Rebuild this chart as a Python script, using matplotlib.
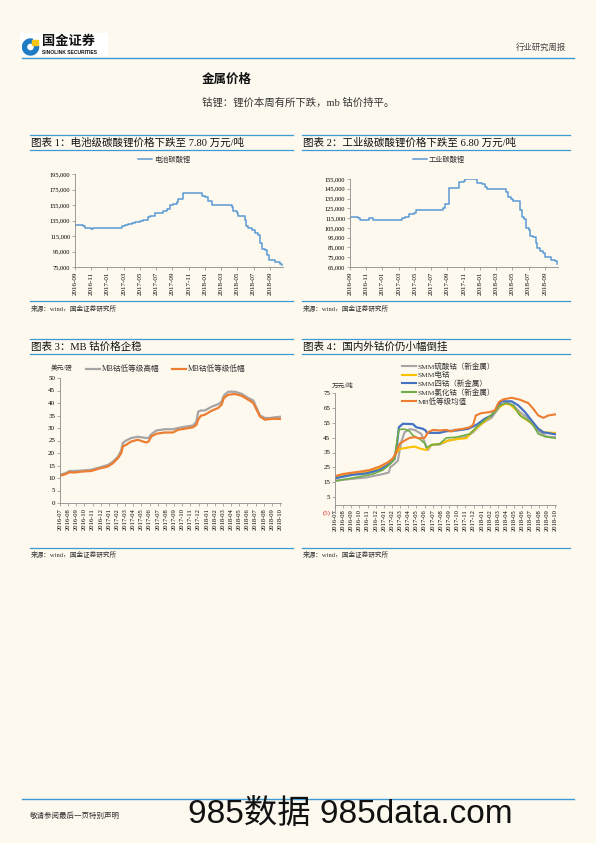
import numpy as np
import pandas as pd
import matplotlib
matplotlib.use('Agg')
import matplotlib.pyplot as plt
from matplotlib.lines import Line2D
from matplotlib.patches import Wedge, Rectangle

# page size in pixels
W, H = 596, 843
BG = '#FDF9EE'
BLUE = '#3C9BD4'
plt.rcParams['font.family'] = ['Liberation Serif', 'Noto Sans CJK SC']
SANS = ['Liberation Sans', 'Noto Sans CJK SC']

# ---- chart 1: battery-grade lithium carbonate (yuan/t), months since 2016-09
li_batt_months = [0, 1.03, 1.23, 1.97, 2.26, 5.75, 6.16, 6.57, 6.98, 7.39,
                  8.01, 8.42, 9.03, 9.24, 9.86, 10.68, 10.88, 11.29, 11.7, 12.11,
                  12.53, 12.65, 13.14, 13.35, 15.61, 16.02, 16.34, 16.84, 19.38, 19.51,
                  19.92, 20.12, 20.94, 21.07, 21.36, 21.77, 22.18, 22.59, 22.79, 23.08,
                  23.41, 23.61, 23.94, 24.44, 24.64, 25.05, 25.26, 25.46]
li_batt_price = [129.4, 127.5, 125.0, 124.3, 125.6, 127.5, 128.6, 130.0, 132.4, 133.7,
                 135.0, 136.0, 139.3, 141.4, 144.4, 145.3, 147.0, 150.0, 155.6, 156.4,
                 158.6, 162.9, 163.0, 170.6, 166.7, 165.9, 160.7, 154.7, 152.0, 147.4,
                 145.3, 141.4, 136.0, 127.3, 125.0, 123.0, 118.7, 116.6, 105.9, 98.0,
                 96.4, 90.9, 84.4, 84.0, 81.4, 81.0, 79.3, 78.0]

# ---- chart 2: industrial-grade lithium carbonate
li_ind_months = [0, 1.03, 1.23, 2.34, 2.87, 6.37, 6.78, 7.31, 7.93, 8.13,
                 11.42, 11.7, 12.24, 12.4, 13.43, 14.05, 14.17, 15.61, 16.22, 16.63,
                 16.84, 19.22, 19.51, 19.79, 20.12, 20.94, 21.15, 21.44, 21.68, 22.01,
                 22.18, 22.59, 22.92, 23.08, 23.41, 23.74, 24.02, 24.56, 24.72, 25.26, 25.46]
li_ind_price = [116.1, 114.8, 112.7, 115.5, 113.4, 115.5, 116.1, 119.2, 120.2, 123.0,
                125.0, 129.0, 145.5, 146.1, 152.0, 152.6, 155.3, 150.9, 149.5, 146.8,
                144.8, 141.4, 136.2, 134.5, 132.2, 123.6, 116.1, 114.0, 104.9, 103.2,
                97.0, 95.7, 89.5, 84.4, 81.0, 79.3, 75.6, 74.9, 72.2, 71.5, 68.0]
li_ticks = pd.date_range('2016-09-01', periods=13, freq='2MS').strftime('%Y-%m')

# ---- chart 3: MB cobalt (USD/lb), months since 2016-07
mb_months = [0, 0.33, 0.74, 1.15, 1.76, 2.79, 3.82, 4.84, 5.87, 6.48,
             7.1, 7.51, 7.71, 8.12, 8.74, 9.56, 10.18, 10.59, 10.87, 11.2,
             11.82, 12.84, 13.87, 14.49, 15.31, 16.33, 16.74, 16.95, 17.28, 17.77,
             18.59, 19.41, 19.82, 20.11, 20.64, 21.46, 22.28, 23.1, 23.72, 24.13,
             24.54, 25.16, 25.77, 26.39, 27.0]
mb_high = [11.3, 11.6, 12.0, 12.8, 12.8, 13.0, 13.3, 14.2, 15.2, 16.5,
           18.5, 21.0, 24.0, 25.0, 26.0, 26.5, 26.2, 26.0, 26.0, 27.5,
           29.0, 29.5, 29.5, 30.0, 30.5, 31.0, 32.5, 36.5, 37.0, 37.0,
           38.5, 39.5, 40.5, 43.0, 44.5, 44.5, 43.7, 42.0, 41.0, 38.0,
           35.0, 34.0, 34.0, 34.3, 34.5]
mb_low = [11.0, 11.2, 11.6, 12.3, 12.2, 12.6, 12.8, 13.8, 14.6, 15.9,
          17.9, 19.9, 22.6, 23.3, 24.6, 25.3, 24.6, 24.2, 24.6, 26.6,
          27.7, 28.2, 28.2, 29.3, 29.7, 30.3, 31.3, 33.3, 34.9, 35.3,
          36.9, 38.0, 39.3, 42.0, 43.3, 43.6, 42.9, 41.3, 40.0, 37.3,
          34.6, 33.3, 33.6, 33.7, 33.6]
month_ticks = pd.date_range('2016-07-01', periods=28, freq='MS').strftime('%Y-%m')

# ---- chart 4: domestic vs overseas cobalt (10k yuan/t)
sulf_months = [0, 1.76, 3.82, 5.87, 6.61, 6.77, 7.3, 7.71, 8.12, 8.54,
               9.15, 9.77, 10.59, 11.0, 11.41, 11.82, 12.84, 13.87, 14.9, 16.13,
               16.95, 17.97, 19.2, 20.02, 20.64, 21.26, 21.88, 22.69, 23.51, 24.33,
               25.15, 25.97, 27.0]
sulf_price = [16.0, 17.1, 18.2, 20.5, 21.6, 25.0, 27.3, 29.5, 41.9, 48.6,
              50.7, 50.2, 47.5, 41.9, 36.7, 40.1, 40.3, 43.0, 44.1, 45.7,
              48.6, 54.3, 58.3, 64.4, 67.8, 68.2, 66.7, 62.2, 58.8, 53.2,
              48.6, 45.7, 45.3]
elec_months = [0, 1.35, 3.0, 4.64, 6.28, 7.1, 7.51, 7.92, 9.15, 9.77,
               10.59, 11.2, 11.82, 12.84, 13.87, 15.1, 16.13, 16.74, 17.77, 19.0,
               20.02, 20.85, 21.46, 22.28, 22.9, 23.92, 24.74, 25.56, 27.0]
elec_price = [18.9, 20.0, 20.9, 22.7, 26.1, 29.5, 34.5, 37.4, 38.5, 39.0,
              37.4, 36.7, 40.1, 40.8, 43.0, 44.1, 44.6, 48.6, 53.2, 58.8,
              65.1, 67.8, 67.3, 63.3, 59.2, 55.4, 52.0, 48.6, 48.2]
oxide_months = [0, 0.94, 2.17, 3.82, 5.46, 6.69, 7.3, 7.59, 7.84, 8.33,
                9.56, 9.97, 10.79, 11.12, 11.28, 12.84, 13.66, 14.9, 16.33, 17.36,
                18.38, 19.2, 20.02, 20.44, 21.67, 22.49, 23.31, 24.13, 24.95, 25.56, 27.0]
oxide_price = [17.6, 18.7, 20.0, 20.9, 23.2, 27.3, 30.6, 39.6, 52.0, 54.3,
               54.1, 52.0, 50.9, 49.8, 48.2, 48.2, 49.3, 49.8, 50.9, 53.6,
               57.7, 59.9, 66.0, 69.4, 69.4, 66.7, 62.2, 56.5, 50.9, 48.6, 47.3]
chlor_months = [0, 1.35, 3.0, 4.64, 5.87, 6.69, 7.3, 7.59, 7.84, 8.54,
                9.15, 9.56, 10.38, 11.0, 11.2, 11.82, 12.84, 13.66, 14.9, 15.72,
                16.54, 17.36, 18.59, 19.61, 20.23, 21.05, 21.88, 22.69, 23.72, 24.33,
                24.95, 25.77, 27.0]
chlor_price = [15.8, 17.1, 18.7, 20.5, 23.2, 26.8, 30.6, 41.9, 50.5, 50.7,
               49.3, 46.4, 44.1, 41.2, 38.1, 40.1, 40.8, 44.8, 45.3, 46.4,
               47.5, 52.0, 57.7, 62.2, 66.7, 68.2, 66.7, 59.9, 56.5, 53.2,
               47.5, 45.7, 44.6]
mbavg_months = [0, 0.94, 1.76, 3.0, 4.23, 5.46, 6.48, 7.1, 7.51, 7.92,
                8.54, 9.15, 9.77, 10.38, 11.0, 11.41, 12.02, 12.84, 13.66, 14.28,
                14.69, 15.72, 16.54, 16.95, 17.28, 17.97, 19.0, 19.61, 20.11, 20.64,
                21.67, 22.69, 23.72, 24.33, 24.95, 25.56, 26.18, 27.0]
mbavg_price = [19.1, 20.5, 21.2, 22.1, 23.2, 25.5, 28.4, 31.1, 35.1, 40.8,
               43.0, 44.8, 45.3, 44.6, 44.8, 48.6, 50.2, 49.8, 50.2, 49.1,
               50.2, 50.9, 52.0, 53.6, 59.9, 61.5, 62.2, 63.3, 68.9, 70.7,
               71.8, 70.5, 68.2, 64.4, 59.9, 58.3, 59.9, 60.6]
c4_names = ['SMM硫酸钴（新金属）', 'SMM电钴', 'SMM四钴（新金属）', 'SMM氯化钴（新金属）', 'MB低等级均值']
c4_colors = ['#A5A5A5', '#FFC000', '#4472C4', '#70AD47', '#ED7D31']

fig = plt.figure(figsize=(W / 100, H / 100), dpi=100, facecolor=BG)


def fx(x):
    return x / W


def fy(y):
    return 1 - y / H


def hline(y, x0, x1, lw=0.9, color=BLUE):
    fig.add_artist(Line2D([fx(x0), fx(x1)], [fy(y), fy(y)], color=color, lw=lw))


def text(x, y, s, size, **kw):
    fig.text(fx(x), fy(y), s, fontsize=size, va='center', **kw)


def axes_at(x0, y0, x1, y1):
    ax = fig.add_axes([fx(x0), fy(y1), fx(x1) - fx(x0), fy(y0) - fy(y1)])
    ax.set_facecolor('none')
    for s in ['top', 'right']:
        ax.spines[s].set_visible(False)
    for s in ['left', 'bottom']:
        ax.spines[s].set_color('#8C8C8C')
        ax.spines[s].set_linewidth(0.6)
    ax.tick_params(length=2, width=0.5, color='#8C8C8C', pad=1.5)
    return ax


def legend_entry(x, y, color, label, lw, size=5.2):
    fig.add_artist(Line2D([fx(x), fx(x + 14)], [fy(y), fy(y)], color=color, lw=lw))
    text(x + 16, y, label, size, color='#333333')


# ---- header
fig.add_artist(Rectangle((fx(20), fy(56)), fx(88), fy(0) - fy(23), color='white', lw=0, zorder=-1))
logo = fig.add_axes([fx(22), fy(56), fx(18), fy(0) - fy(20)])
logo.set_zorder(2)
logo.set_facecolor('none')
logo.set_xlim(0, 18)
logo.set_ylim(0, 20)
logo.axis('off')
logo.add_patch(Wedge((8.5, 9), 8, 75, 15, width=4, color='#1F7CC4'))
logo.add_patch(Rectangle((10, 11), 5.5, 5.5, color='#F5C518'))
text(42, 42, '国金证券', 9.5, family=SANS, weight='bold', color='#111111')
text(42, 52.5, 'SINOLINK SECURITIES', 3.6, family=SANS, weight='bold', color='#111111')
text(566, 48, '行业研究周报', 6, color='#444444', ha='right')
hline(57.5, 22, 574, lw=1.0)

text(202, 80, '金属价格', 9, weight='bold', color='#111111')
text(202, 103, '钴锂：锂价本周有所下跌，mb 钴价持平。', 7.5, color='#333333')

# ---- title boxes
for x0, x1, title in [(30, 293, '图表 1：电池级碳酸锂价格下跌至 7.80 万元/吨'),
                      (302, 570, '图表 2：工业级碳酸锂价格下跌至 6.80 万元/吨')]:
    hline(135, x0, x1)
    hline(149.5, x0, x1)
    text(x0 + 1, 142.5, title, 7.6, color='#111111')
    hline(300.5, x0, x1)
    text(x0 + 1, 308, '来源：wind，国金证券研究所', 4.8, color='#333333')

for x0, x1, title in [(30, 293, '图表 3：MB 钴价格企稳'),
                      (302, 570, '图表 4：国内外钴价仍小幅倒挂')]:
    hline(339, x0, x1)
    hline(353.5, x0, x1)
    text(x0 + 1, 346.5, title, 7.6, color='#111111')
    hline(547.5, x0, x1)
    text(x0 + 1, 554, '来源：wind，国金证券研究所', 4.8, color='#333333')

# ---- chart 1
ax1 = axes_at(75, 174, 282.5, 267)
ax1.plot(li_batt_months, np.array(li_batt_price) * 1000, color='#5B9BD5', lw=1.1,
         drawstyle='steps-post')
ax1.set_ylim(75000, 195000)
ax1.set_yticks(np.arange(75000, 195001, 20000))
ax1.yaxis.set_major_formatter(lambda v, p: f'{v:,.0f}')
ax1.set_xlim(0, 25.55)
ax1.set_xticks(np.arange(0, 25, 2), li_ticks, rotation=90)
ax1.tick_params(axis='y', labelsize=4.6)
ax1.tick_params(axis='x', labelsize=5)
legend_entry(138, 159, '#5B9BD5', '电池碳酸锂', 1.1)

# ---- chart 2
ax2 = axes_at(350, 179, 557.5, 267)
ax2.plot(li_ind_months, np.array(li_ind_price) * 1000, color='#5B9BD5', lw=1.1,
         drawstyle='steps-post')
ax2.set_ylim(65000, 155000)
ax2.set_yticks(np.arange(65000, 155001, 10000))
ax2.yaxis.set_major_formatter(lambda v, p: f'{v:,.0f}')
ax2.set_xlim(0, 25.55)
ax2.set_xticks(np.arange(0, 25, 2), li_ticks, rotation=90)
ax2.tick_params(axis='y', labelsize=4.6)
ax2.tick_params(axis='x', labelsize=5)
legend_entry(413, 159, '#5B9BD5', '工业碳酸锂', 1.1)

# ---- chart 3
ax3 = axes_at(60, 378, 281, 503)
ax3.plot(mb_months, mb_high, color='#A5A5A5', lw=1.6)
ax3.plot(mb_months, mb_low, color='#ED7D31', lw=1.6)
ax3.set_ylim(0, 50)
ax3.set_yticks(np.arange(0, 51, 5))
ax3.set_xlim(0, 27.12)
ax3.set_xticks(np.arange(28), month_ticks, rotation=90)
ax3.tick_params(axis='y', labelsize=5)
ax3.tick_params(axis='x', labelsize=4.7)
text(51, 368, '美元/磅', 4.8, color='#333333')
legend_entry(86, 369, '#A5A5A5', 'MB钴低等级高幅', 1.6, size=5.5)
legend_entry(172, 369, '#ED7D31', 'MB钴低等级低幅', 1.6, size=5.5)

# ---- chart 4
ax4 = axes_at(335, 393, 556, 512)
c4_series = [(sulf_months, sulf_price), (elec_months, elec_price), (oxide_months, oxide_price),
             (chlor_months, chlor_price), (mbavg_months, mbavg_price)]
c4_lw = [1.5, 1.5, 1.6, 1.2, 1.5]
for (m, v), c, lw in zip(c4_series, c4_colors, c4_lw):
    ax4.plot(m, v, color=c, lw=lw)
ax4.set_ylim(-5, 75)
ax4.spines['bottom'].set_position(('data', 0))
ax4.set_yticks(np.arange(-5, 76, 10), ['(5)'] + [str(v) for v in range(5, 76, 10)])
ax4.get_yticklabels()[0].set_color('#E02020')
ax4.set_xlim(0, 27.12)
ax4.set_xticks(np.arange(28), month_ticks, rotation=90)
ax4.tick_params(axis='y', labelsize=5)
ax4.tick_params(axis='x', labelsize=4.7)
text(332, 386, '万元/吨', 4.8, color='#333333')
for i, (name, c) in enumerate(zip(c4_names, c4_colors)):
    legend_entry(402, 366 + i * 8.7, c, name, 1.5, size=5.4)

# ---- footer
hline(799, 22, 574, lw=1.0)
text(30, 815, '敬请参阅最后一页特别声明', 5.4, color='#333333')
text(188, 814, '985数据 985data.com', 24, family=SANS, color='#111111')

fig.savefig('out.png', dpi=100, facecolor=BG)
